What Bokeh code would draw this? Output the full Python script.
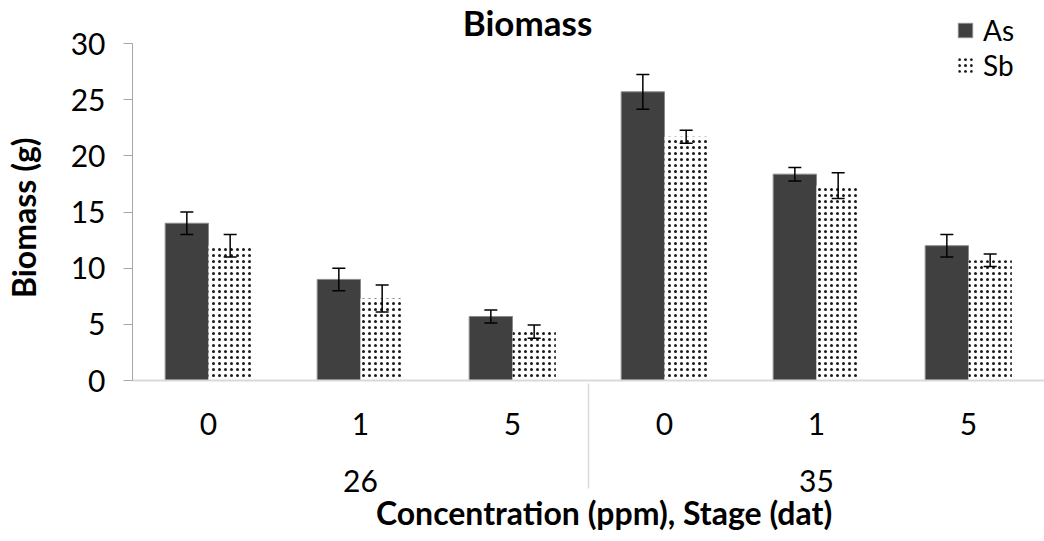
from bokeh.plotting import figure
from bokeh.models import (ColumnDataSource, FactorRange, Range1d, Whisker, TeeHead,
                          SingleIntervalTicker, Legend, LegendItem, Label)
from bokeh.transform import dodge
from bokeh.embed import file_html
from bokeh.resources import INLINE

# ---- data ----
stages = ["26", "26", "26", "35", "35", "35"]
concentrations = ["0", "1", "5", "0", "1", "5"]
as_mean = [14.0, 9.0, 5.7, 25.7, 18.37, 12.0]
as_err = [1.0, 1.0, 0.58, 1.55, 0.6, 1.0]
sb_mean = [12.0, 7.3, 4.35, 21.7, 17.35, 10.7]
sb_err = [1.0, 1.2, 0.58, 0.58, 1.15, 0.56]
series_names = ["As", "Sb"]
chart_title = "Biomass"
y_title = "Biomass (g)"
x_title = "Concentration (ppm), Stage (dat)"

FONT = "Lato"
NBSP = "\u00a0"
factors = list(zip(stages, concentrations))

src = ColumnDataSource(data=dict(
    x=factors,
    as_mean=as_mean,
    as_lower=[m - e for m, e in zip(as_mean, as_err)],
    as_upper=[m + e for m, e in zip(as_mean, as_err)],
    sb_mean=sb_mean,
    sb_lower=[m - e for m, e in zip(sb_mean, sb_err)],
    sb_upper=[m + e for m, e in zip(sb_mean, sb_err)],
))

x_range = FactorRange(*factors, group_padding=0, factor_padding=0,
                      subgroup_padding=0, range_padding=0)

# plot area reaches to the top of the canvas so the legend/title fit inside;
# the value axis itself only spans 0..30
p = figure(x_range=x_range, y_range=Range1d(0, 33.83), width=1044, height=541,
           output_backend="svg", toolbar_location=None,
           min_border_left=129, min_border_right=0, min_border_top=0,
           min_border_bottom=161)

p.outline_line_color = None
p.background_fill_color = "white"
p.border_fill_color = "white"
p.xgrid.grid_line_color = None
p.ygrid.grid_line_color = None

BW = 0.285
OFF = BW / 2

r_as = p.vbar(x=dodge("x", -OFF, range=p.x_range), top="as_mean", width=BW,
              source=src, fill_color="#404040", line_color="#8a8a8a", line_width=1)
r_sb = p.vbar(x=dodge("x", OFF, range=p.x_range), top="sb_mean", width=BW,
              source=src, fill_color="white", line_color=None,
              hatch_pattern="dot", hatch_color="black", hatch_scale=6,
              hatch_alpha=0.9)

for name, off in (("as", -OFF), ("sb", OFF)):
    w = Whisker(source=src, base=dodge("x", off, range=p.x_range),
                lower=f"{name}_lower", upper=f"{name}_upper",
                line_color="black", line_width=1.5, level="overlay",
                upper_head=TeeHead(size=13, line_color="black", line_width=1.5),
                lower_head=TeeHead(size=13, line_color="black", line_width=1.5))
    p.add_layout(w)

# y axis
ya = p.yaxis[0]
ya.bounds = (0, 30)
ya.ticker = SingleIntervalTicker(interval=5)
ya.minor_tick_line_color = None
ya.axis_line_color = "#a6a6a6"
ya.major_tick_line_color = "#a6a6a6"
ya.major_tick_out = 9
ya.major_tick_in = 0
ya.major_label_standoff = 18
ya.major_label_text_font = FONT
ya.major_label_text_font_size = "30px"
ya.major_label_text_color = "black"
# trailing no-break spaces centre the title on the 0..30 span
ya.axis_label = y_title + NBSP * 7
ya.axis_label_text_font = FONT
ya.axis_label_text_font_size = "32px"
ya.axis_label_text_font_style = "bold"
ya.axis_label_text_color = "black"
ya.axis_label_standoff = 25

# x axis
xa = p.xaxis[0]
xa.axis_line_color = "#d9d9d9"
xa.axis_line_width = 2
xa.major_tick_line_color = None
xa.major_tick_out = 0
xa.major_tick_in = 0
xa.major_label_standoff = 32
xa.major_label_text_font = FONT
xa.major_label_text_font_size = "30px"
xa.major_label_text_color = "black"
# leave a blank line under each concentration label so the stage row sits lower
xa.major_label_overrides = {c: c + "\n" for c in sorted(set(concentrations))}
xa.group_text_font = FONT
xa.group_text_font_size = "30px"
xa.group_text_font_style = "normal"
xa.group_text_color = "black"
xa.separator_line_color = "#d9d9d9"
xa.separator_line_width = 1.5
xa.axis_label = NBSP * 4 + x_title
xa.axis_label_text_font = FONT
xa.axis_label_text_font_size = "32px"
xa.axis_label_text_font_style = "bold"
xa.axis_label_text_color = "black"
xa.axis_label_standoff = -2

# chart title
p.add_layout(Label(text=chart_title, x=395, y=359, x_units="screen", y_units="screen",
                   text_align="center", text_baseline="alphabetic",
                   text_font=FONT, text_font_size="35px", text_font_style="bold",
                   text_color="black"))

legend = Legend(items=[LegendItem(label=series_names[0], renderers=[r_as]),
                       LegendItem(label=series_names[1], renderers=[r_sb])],
                location=(824, 298), orientation="vertical",
                glyph_width=18, glyph_height=18, label_standoff=9,
                spacing=1, padding=0, margin=0,
                border_line_color=None, background_fill_alpha=0,
                label_text_font=FONT, label_text_font_size="28px",
                label_text_color="black")
p.add_layout(legend, "center")

open("out.html", "w").write(file_html(p, INLINE))
